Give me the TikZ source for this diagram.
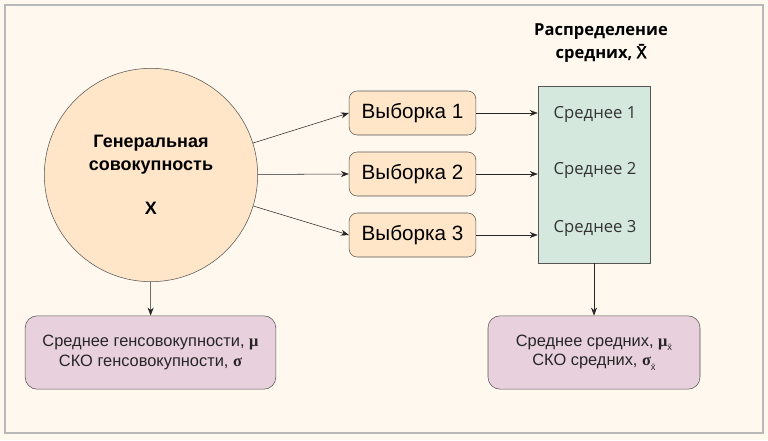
\documentclass[tikz,border=0pt]{standalone}
\usepackage{fontspec}
\setmainfont{Liberation Sans}
\newfontfamily\headfont{Open Sans}
\newfontfamily\markfont[AutoFakeBold=2.5]{Noto Sans}
\newfontfamily\greekfont{Liberation Serif}
\usetikzlibrary{arrows.meta}

\definecolor{paper}{HTML}{FEF8EE}
\definecolor{frame}{HTML}{B8B8B8}
\definecolor{popfill}{HTML}{FFE6C8}
\definecolor{distfill}{HTML}{D4E8DE}
\definecolor{statfill}{HTML}{E8D0DC}
\definecolor{edge}{HTML}{555555}

\def\sub#1{\raisebox{-0.5ex}{\fontsize{7}{7}\selectfont #1}}

\begin{document}
\begin{tikzpicture}[x=0.75pt, y=-0.75pt, ->, >={Stealth[length=6pt,width=4.5pt]}, draw=black!85]
    \tikzstyle{population}=[circle,draw=edge,fill=popfill,minimum size=160pt,inner sep=0pt,align=center,font=\fontsize{13.5}{17}\selectfont\bfseries]
    \tikzstyle{sample}=[rectangle,rounded corners=6pt,draw=edge,fill=popfill,minimum width=95pt,minimum height=33pt,font=\fontsize{15.5}{17}\selectfont]
    \tikzstyle{distbox}=[rectangle,draw=edge,fill=distfill,minimum width=84pt,minimum height=133pt]
    \tikzstyle{mean}=[font=\headfont\fontsize{12.5}{14}\selectfont,text=black!80]
    \tikzstyle{stats}=[rectangle,rounded corners=9pt,draw=edge,fill=statfill,align=center,minimum height=55pt,font=\fontsize{12.3}{14.5}\selectfont,text=black!85]
    \tikzstyle{annot}=[align=center,font=\headfont\fontsize{12.4}{17}\selectfont\bfseries]

    % Background and frame
    \path[draw=none,fill=paper] (0,0) rectangle (768,440);
    \useasboundingbox (0,0) rectangle (768,440);
    \path[draw=frame,line width=1pt] (5,5) rectangle (763,433);

    % Draw the population circle
    \node[population] (Pop) at (151,175) {Генеральная\\совокупность\\[16pt]X};

    % Draw the sample nodes
    \node[sample] (S-1) at (412.5,113) {Выборка 1};
    \node[sample] (S-2) at (412.5,174) {Выборка 2};
    \node[sample] (S-3) at (412.5,235) {Выборка 3};

    % Draw the distribution of means
    \node[distbox] (Dist) at (594,174.5) {};
    \node[mean] (M-1) at (595,114) {Среднее 1};
    \node[mean] (M-2) at (595,170) {Среднее 2};
    \node[mean] (M-3) at (595,228) {Среднее 3};
    \node[annot] (hd) at (601,43) {Распределение\\средних, {\markfont\bfseries X̄}};

    % Draw the statistics nodes
    \node[stats,minimum width=188pt] (PopStats) at (150.5,352.5)
        {Среднее генсовокупности, {\greekfont\bfseries μ}\\СКО генсовокупности, {\greekfont\bfseries σ}};
    \node[stats,minimum width=159pt] (DistStats) at (594,352.5)
        {Среднее средних, {\greekfont\bfseries μ}\sub{\={x}}\\СКО средних, {\greekfont\bfseries σ}\sub{\={x}}};

    % Connect the population with every sample
    \foreach \dest in {1,2,3}
        \draw (Pop) -- (S-\dest.west);

    % Connect every sample with the distribution of means
    \foreach \source in {1,2,3}
        \draw (S-\source.east) -- (S-\source.east -| Dist.west);

    % Connect to the statistics
    \draw (Pop) -- (PopStats);
    \draw (Dist) -- (DistStats);
\end{tikzpicture}
\end{document}
